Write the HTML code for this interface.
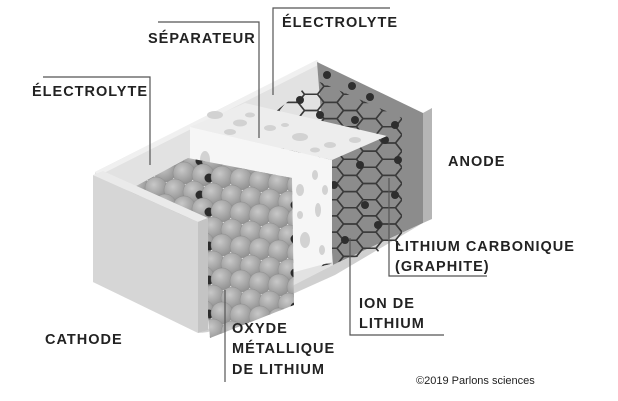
<!DOCTYPE html>
<html><head><meta charset="utf-8"><style>
html,body{margin:0;padding:0;background:#fff;}
svg{display:block;}
text{font-family:"Liberation Sans",sans-serif;fill:#222;}
.l{font-size:14.5px;font-weight:bold;letter-spacing:1px;}
</style></head><body>
<svg id="s" width="618" height="401" viewBox="0 0 618 401" xmlns="http://www.w3.org/2000/svg">
<defs>
<radialGradient id="sp" cx="0.4" cy="0.35" r="0.7">
<stop offset="0" stop-color="#c8c8c8"/><stop offset="1" stop-color="#8e8e8e"/>
</radialGradient>
<clipPath id="cs"><polygon points="125,192 188,158 292,178 294,305 210,338 200,225"/></clipPath>
<clipPath id="cg"><polygon points="275,112 315,80 402,118 402,245 315,268 300,250"/></clipPath>
</defs>
<polygon points="95,172 317,60 333,265 200,333 93,282" fill="#e2e2e2"/>
<polygon points="95,172 317,60 320,64 98,176" fill="#f0f0f0"/>
<polygon points="317,62 423,113 423,223 333,265" fill="#8c8c8c"/>
<polygon points="423,113 432,108 432,219 423,223" fill="#b5b5b5"/>
<polygon points="200,333 333,265 423,223 335,275 208,332" fill="#d0d0d0"/>
<g id="hex" clip-path="url(#cg)" fill="none" stroke="#3a3a3a" stroke-width="1.5"></g>
<g id="dots" fill="#2e2e2e"></g>
<polygon points="190,127 245,103 387,136 332,160" fill="#ededed"/>
<polygon points="190,127 332,160 332,262 190,300" fill="#f6f6f6"/>
<g id="holes" fill="#d2d2d2"></g>
<g id="sph" clip-path="url(#cs)"></g>
<polygon points="93,175 198,222 198,333 93,282" fill="#d6d6d6"/>
<polygon points="93,175 198,222 208,218 103,171" fill="#eaeaea"/>
<polygon points="198,222 208,218 208,330 198,333" fill="#c4c4c4"/>
<g fill="none" stroke="#555" stroke-width="1.2">
<polyline points="43,77 150,77 150,165"/>
<polyline points="158,22 259,22 259,138"/>
<polyline points="273,95 273,8 390,8"/>
<polyline points="389,178 389,276 487,276"/>
<polyline points="350,238 350,335 444,335"/>
<polyline points="225,290 225,382"/>
</g>
<text class="l" x="148" y="43">SÉPARATEUR</text>
<text class="l" x="282" y="27">ÉLECTROLYTE</text>
<text class="l" x="32" y="96">ÉLECTROLYTE</text>
<text class="l" x="448" y="166">ANODE</text>
<text class="l" x="395" y="251">LITHIUM CARBONIQUE</text>
<text class="l" x="395" y="271">(GRAPHITE)</text>
<text class="l" x="359" y="308">ION DE</text>
<text class="l" x="359" y="328">LITHIUM</text>
<text class="l" x="45" y="344">CATHODE</text>
<text class="l" x="232" y="333">OXYDE</text>
<text class="l" x="232" y="353">MÉTALLIQUE</text>
<text class="l" x="232" y="374">DE LITHIUM</text>
<text x="416" y="384" style="font-size:11px">©2019 Parlons sciences</text>
</svg>
<script>
var NS="http://www.w3.org/2000/svg";
function el(p,t,a){var e=document.createElementNS(NS,t);for(var k in a)e.setAttribute(k,a[k]);document.getElementById(p).appendChild(e);}
var n=0;
for(var r=0;r<12;r++){for(var c=0;c<10;c++){
 var x=118+c*19+(r%2)*9, y=150+r*17+c*2;
 el("sph","circle",{cx:x,cy:y,r:11,fill:"url(#sp)",stroke:"#888","stroke-width":0.4});
 n++; if((n*7)%5==0) el("sph","circle",{cx:x+6,cy:y+3,r:4.5,fill:"#2b2b2b"});
}}
var hs=[[215,115,8,4],[240,123,7,3.5],[270,128,6,3],[300,137,8,4],[330,145,6,3],[250,115,5,2.5],[285,125,4,2],[355,140,6,3],[230,132,6,3],[315,150,5,2.5],
[205,160,5,9],[205,200,4,8],[210,240,5,8],[300,190,4,6],[318,210,3,7],[305,240,5,8],[322,250,3,5],[315,175,3,5],[300,215,3,4],[325,190,3,5]];
hs.forEach(function(h){el("holes","ellipse",{cx:h[0],cy:h[1],rx:h[2],ry:h[3]});});
var R=13, sy=0.72;
for(var i=-2;i<12;i++){for(var j=-2;j<16;j++){
 var cx=272+i*R*1.5, cy=70+j*R*1.732*sy+(((i%2)+2)%2?R*0.866*sy:0);
 var p=[];for(var k=0;k<6;k++){var a=Math.PI/3*k;p.push((cx+R*Math.cos(a)).toFixed(1)+","+(cy+R*sy*Math.sin(a)).toFixed(1));}
 el("hex","polygon",{points:p.join(" ")});
}}
var ds=[[327,75],[352,86],[370,97],[395,125],[398,160],[395,195],[385,140],[340,150],[360,165],[320,115],[305,180],[345,240],[365,205],[334,185],[378,225],[300,100],[355,120],[325,200]];
ds.forEach(function(d){el("dots","circle",{cx:d[0],cy:d[1],r:4});});
</script>
</body></html>
